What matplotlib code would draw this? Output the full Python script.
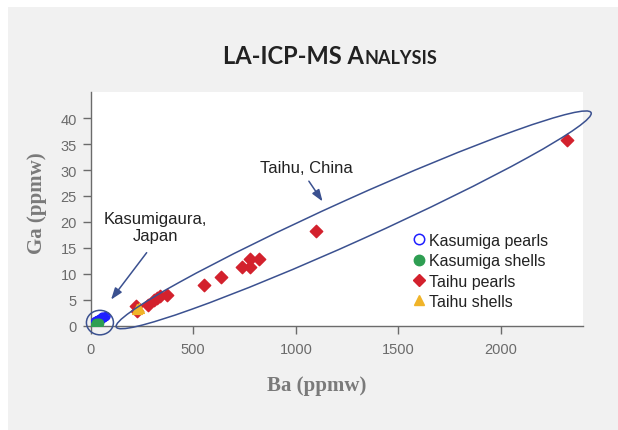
import matplotlib
matplotlib.use("Agg")
import matplotlib.pyplot as plt
from matplotlib.patches import Ellipse, Rectangle
from matplotlib.lines import Line2D
from matplotlib.transforms import IdentityTransform
from matplotlib.offsetbox import TextArea, HPacker, AnchoredOffsetbox

# Kasumigaura (Japan) samples
kas_pearl_ba = [22, 28, 32, 36, 40, 44, 48, 52, 56, 60, 64, 68, 72, 76, 45, 55, 35, 65, 50, 58]
kas_pearl_ga = [0.8, 0.9, 1.0, 1.1, 1.1, 1.2, 1.3, 1.3, 1.4, 1.5, 1.6, 1.6, 1.7, 1.8, 1.0, 1.2, 0.9, 1.5, 1.4, 1.7]
kas_shell_ba = [20, 24, 28, 32, 36, 40, 26, 34]
kas_shell_ga = [0.1, 0.2, 0.3, 0.4, 0.5, 0.6, 0.5, 0.2]

# Taihu (China) samples
taihu_pearl_ba = [222, 228, 278, 308, 322, 338, 372, 554, 637, 740, 777, 779, 821, 1100, 2321]
taihu_pearl_ga = [3.8, 2.9, 3.9, 5.0, 5.3, 5.7, 5.9, 7.9, 9.4, 11.3, 11.4, 12.9, 12.8, 18.2, 35.8]
taihu_shell_ba = [228, 234]
taihu_shell_ga = [3.2, 3.5]

labels = ["Kasumiga pearls", "Kasumiga shells", "Taihu pearls", "Taihu shells"]
x_ticks = [0, 500, 1000, 1500, 2000]
y_ticks = [0, 5, 10, 15, 20, 25, 30, 35, 40]

blue = "#1f1fff"
green = "#2e9e52"
red = "#d3212d"
yellow = "#f0b429"
navy = "#3b5190"
gray = "#6b6b6b"

plt.rcParams["font.family"] = ["Liberation Sans", "DejaVu Sans"]

fig = plt.figure(figsize=(6.18, 4.31), dpi=100, facecolor="white")
fig.add_artist(Rectangle((8 / 618, 0), 1, 1 - 8 / 431, transform=fig.transFigure,
                         facecolor="#f1f1f1", edgecolor="none", zorder=-10))

ax = fig.add_axes([90.7 / 618, 104.3 / 431, 492.3 / 618, 234 / 431])
ax.set_facecolor("white")
ax.set_xlim(0, 2400)
ax.set_ylim(0, 45.1)

ax.scatter(kas_pearl_ba, kas_pearl_ga, s=30, facecolors="none", edgecolors=blue, linewidths=1, zorder=3)
ax.scatter(kas_shell_ba, kas_shell_ga, s=36, color=green, zorder=4)
ax.scatter(taihu_pearl_ba, taihu_pearl_ga, s=40, marker="D", color=red, zorder=3)
ax.scatter(taihu_shell_ba, taihu_shell_ga, s=50, marker="^", color=yellow, zorder=4)

# spines and ticks
for side in ["top", "right"]:
    ax.spines[side].set_visible(False)
for side in ["left", "bottom"]:
    ax.spines[side].set_color(gray)
    ax.spines[side].set_linewidth(1)
ax.set_xticks(x_ticks)
ax.set_yticks(y_ticks)
ax.tick_params(axis="both", colors=gray, labelsize=10.5, length=6, width=1, direction="out")
ax.tick_params(axis="x", pad=6)
ax.tick_params(axis="y", pad=4)

# group outlines (drawn in pixel units so the shape does not depend on axis scales)
fig.canvas.draw()
c_taihu = ax.transData.transform((1282, 20.4))
c_kas = ax.transData.transform((45, 0.6))
fig.add_artist(Ellipse(c_taihu, 521, 42, angle=24.3, transform=IdentityTransform(),
                       fill=False, edgecolor=navy, linewidth=1.1, clip_on=False, zorder=5))
fig.add_artist(Ellipse(c_kas, 27, 24.5, angle=0, transform=IdentityTransform(),
                       fill=False, edgecolor=navy, linewidth=1.1, clip_on=False, zorder=5))

# annotations
ax.text(314, 19.0, "Kasumigaura,\nJapan", ha="center", va="center", fontsize=12,
        color="#222222", linespacing=1.15)
ax.annotate("", xy=(91, 4.6), xytext=(281, 14.5),
            arrowprops=dict(arrowstyle="-|>,head_width=0.25,head_length=0.7", color=navy, lw=1.1))
ax.text(1050, 30.4, "Taihu, China", ha="center", va="center", fontsize=12, color="#222222")
ax.annotate("", xy=(1138, 23.5), xytext=(1056, 28.3),
            arrowprops=dict(arrowstyle="-|>,head_width=0.25,head_length=0.7", color=navy, lw=1.1))

# legend
handles = [
    Line2D([], [], marker="o", linestyle="none", markersize=7.5, markerfacecolor="none",
           markeredgecolor=blue, markeredgewidth=1.1),
    Line2D([], [], marker="o", linestyle="none", markersize=7.5, color=green),
    Line2D([], [], marker="D", linestyle="none", markersize=6.5, color=red),
    Line2D([], [], marker="^", linestyle="none", markersize=7.5, color=yellow),
]
fig.legend(handles, labels, loc="upper left", bbox_to_anchor=(404 / 618, 1 - 226 / 431),
           frameon=False, fontsize=11.5, handlelength=0.9, handletextpad=0.15,
           labelspacing=0.33, borderpad=0, labelcolor="#222222")

# axis labels
fig.text(317 / 618, 1 - 386 / 431, "Ba (ppmw)", ha="center", va="center",
         fontsize=15, fontweight="bold", family="Liberation Serif", color="#7a7a7a")
fig.text(37 / 618, 1 - 203 / 431, "Ga (ppmw)", ha="center", va="center", rotation=90,
         fontsize=15, fontweight="bold", family="Liberation Serif", color="#7a7a7a")

# title with small caps
big = TextArea("LA-ICP-MS A", textprops=dict(size=17, weight="bold", family="Lato", color="#222222"))
small = TextArea("NALYSIS", textprops=dict(size=13, weight="bold", family="Lato", color="#222222"))
title_box = HPacker(children=[big, small], align="baseline", pad=0, sep=0)
fig.add_artist(AnchoredOffsetbox(loc="center", child=title_box, frameon=False,
                                 bbox_to_anchor=(330 / 618, 1 - 56 / 431),
                                 bbox_transform=fig.transFigure, borderpad=0, pad=0))

fig.savefig("out.png", dpi=100, facecolor=fig.get_facecolor())
